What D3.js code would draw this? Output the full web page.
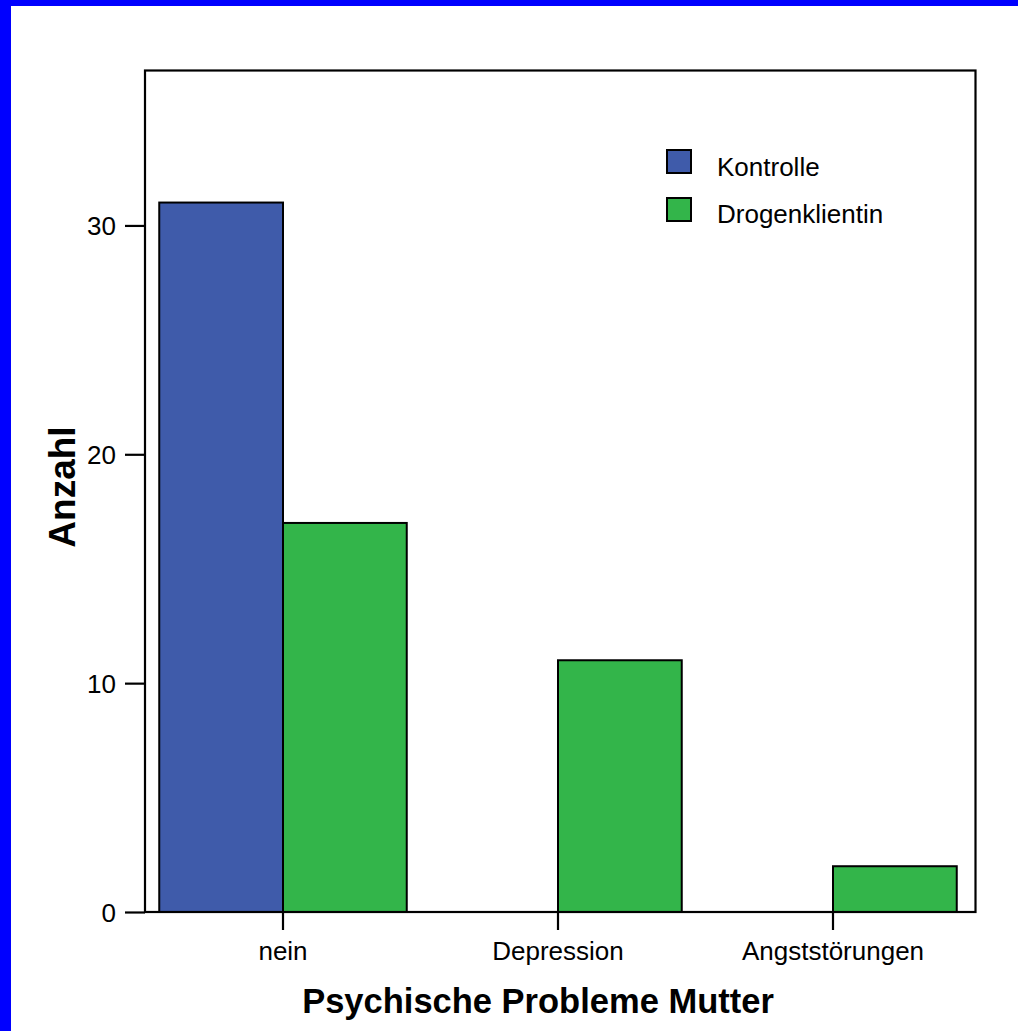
<!DOCTYPE html>
<html><head><meta charset="utf-8">
<script src="https://cdn.jsdelivr.net/npm/d3@7"></script>
<style>body{margin:0;background:#fff}svg{display:block}text{font-family:"Liberation Sans",Arial,sans-serif}</style>
</head><body>
<svg id="c" width="1018" height="1031"></svg>
<script>
const categories = ["nein", "Depression", "Angststörungen"];
const seriesNames = ["Kontrolle", "Drogenklientin"];
const kontrolle = [31, 0, 0];
const drogenklientin = [17, 11, 2];
const yTicks = [0, 10, 20, 30];
const colors = ["#3F5BAA", "#33B54A"];
const xTitle = "Psychische Probleme Mutter";
const yTitle = "Anzahl";

const svg = d3.select("#c");
svg.append("rect").attr("x",0).attr("y",0).attr("width",1018).attr("height",1031).attr("fill","#0000FF");
svg.append("rect").attr("x",11).attr("y",6).attr("width",1007).attr("height",1025).attr("fill","#fff");

const frame = {x0:145, x1:975.5, y0:70.5, y1:912};
const y = d3.scaleLinear().domain([0, 36.77]).range([frame.y1, frame.y0]);
const x = d3.scaleBand().domain(categories).range([145.5, 970.5]).padding(0);
const barW = x.bandwidth()*0.45;

const series = [kontrolle, drogenklientin];
const g = svg.append("g");
series.forEach((vals, si) => {
  g.selectAll(null).data(categories.map((c,i)=>({c, v:vals[i]})).filter(d=>d.v>0))
   .enter().append("rect")
   .attr("x", d => x(d.c) + x.bandwidth()/2 + (si-1)*barW)
   .attr("y", d => y(d.v))
   .attr("width", barW)
   .attr("height", d => y(0)-y(d.v))
   .attr("fill", colors[si])
   .attr("stroke","#000").attr("stroke-width",2);
});

// frame
svg.append("rect").attr("x",frame.x0).attr("y",frame.y0).attr("width",frame.x1-frame.x0).attr("height",frame.y1-frame.y0)
  .attr("fill","none").attr("stroke","#000").attr("stroke-width",2.2);

// y axis
const ya = svg.append("g").attr("transform",`translate(${frame.x0},0)`)
  .call(d3.axisLeft(y).tickValues(yTicks).tickSize(20).tickPadding(9).tickFormat(d3.format("d")));
ya.select(".domain").remove();
ya.selectAll("line").attr("stroke","#000").attr("stroke-width",2.2);
ya.selectAll("text").attr("font-size",26).attr("fill","#000").attr("dy","0.35em");

// x axis
const xa = svg.append("g").attr("transform",`translate(0,${frame.y1})`)
  .call(d3.axisBottom(x).tickSize(18).tickPadding(12));
xa.select(".domain").remove();
xa.selectAll("line").attr("stroke","#000").attr("stroke-width",2.2);
xa.selectAll("text").attr("font-size",26).attr("fill","#000");

// titles
svg.append("text").attr("x",538).attr("y",1013).attr("text-anchor","middle")
  .attr("font-size",34.5).attr("font-weight","bold").text(xTitle);
svg.append("text").attr("transform","translate(75,487) rotate(-90)").attr("text-anchor","middle")
  .attr("font-size",37).attr("font-weight","bold").text(yTitle);

// legend
const lg = svg.append("g");
seriesNames.forEach((n,i)=>{
  lg.append("rect").attr("x",667).attr("y",150+i*48).attr("width",24).attr("height",23)
    .attr("fill",colors[i]).attr("stroke","#000").attr("stroke-width",2);
  lg.append("text").attr("x",717).attr("y",176+i*47).attr("font-size",26).attr("fill","#000").text(n);
});
</script>
</body></html>
